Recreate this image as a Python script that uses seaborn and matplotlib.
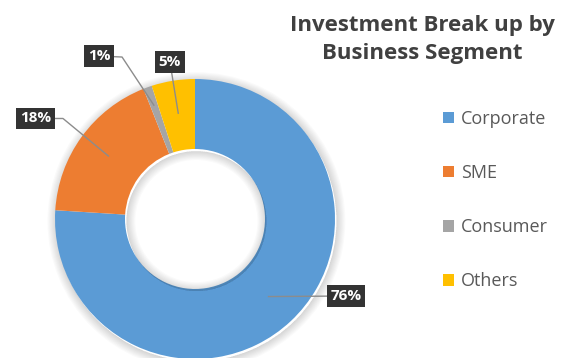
import matplotlib
matplotlib.use("Agg")
import matplotlib.pyplot as plt
import seaborn as sns
import numpy as np
from matplotlib.patches import Patch, Wedge

segments = ["Corporate", "SME", "Consumer", "Others"]
shares = [76, 18, 1, 5]
palette = ["#5B9BD5", "#ED7D31", "#A5A5A5", "#FFC000"]
title_lines = ["Investment Break up by", "Business Segment"]

sns.set_theme(style="white")
plt.rcParams["font.family"] = ["Open Sans", "DejaVu Sans"]

W, H = 562, 358
fig = plt.figure(figsize=(W / 100, H / 100), dpi=100)
fig.patch.set_facecolor("white")

# donut centre and radius in pixels
cx, cy, R = 195, 219, 140
ax = fig.add_axes([(cx - R) / W, (H - cy - R) / H, 2 * R / W, 2 * R / H])

# soft shadow around the ring
for i in range(8):
    d = 0.008 * (i + 1)
    ax.add_patch(Wedge((0.01, -0.015), 1.0 + d, 0, 360, width=d,
                       facecolor="#000000", alpha=0.018, edgecolor="none",
                       clip_on=False, zorder=0))
    ax.add_patch(Wedge((0.01, -0.015), 0.5, 0, 360, width=d,
                       facecolor="#000000", alpha=0.018, edgecolor="none",
                       clip_on=False, zorder=4))

wedges, _ = ax.pie(shares, colors=sns.color_palette(palette), startangle=90,
                   counterclock=False, radius=1.0,
                   wedgeprops=dict(width=0.5, edgecolor="none"))
for w in wedges:
    w.set_clip_on(False)
ax.set_xlim(-1, 1)
ax.set_ylim(-1, 1)
ax.set_aspect("equal")
ax.axis("off")

# label box positions (data units) and leader line elbows
label_pos = {
    "Corporate": (1.079, -0.55),
    "SME": (-1.139, 0.718),
    "Consumer": (-0.686, 1.164),
    "Others": (-0.179, 1.121),
}
elbow = {
    "Corporate": None,
    "SME": (-0.943, 0.718),
    "Consumer": (-0.521, 1.157),
    "Others": None,
}

total = sum(shares)
cum = 0
for seg, val in zip(segments, shares):
    mid = (cum + val / 2) / total * 360.0
    cum += val
    ang = np.deg2rad(90 - mid)
    rr = 0.76 if seg != "Consumer" else 0.86
    px, py = rr * np.cos(ang), rr * np.sin(ang)
    lx, ly = label_pos[seg]
    if elbow[seg] is None:
        xs, ys = [px, lx], [py, ly]
    else:
        ex, ey = elbow[seg]
        xs, ys = [px, ex, lx], [py, ey, ly]
    ax.plot(xs, ys, color="#8c8c8c", lw=1.0, solid_capstyle="butt",
            clip_on=False, zorder=6)
    ax.text(lx, ly, f"{val}%", ha="center", va="center", color="white",
            fontsize=11, fontweight="bold", zorder=8, clip_on=False,
            bbox=dict(boxstyle="square,pad=0.24", facecolor="#333333",
                      edgecolor="none"))

fig.text(422 / W, 1 - 25 / H, title_lines[0], ha="center", va="center",
         fontsize=16, fontweight="bold", color="#404040")
fig.text(422 / W, 1 - 53 / H, title_lines[1], ha="center", va="center",
         fontsize=16, fontweight="bold", color="#404040")

handles = [Patch(facecolor=c, edgecolor="none") for c in palette]
leg = fig.legend(handles, segments, loc="upper left",
                 bbox_to_anchor=(443 / W, 1 - 110 / H), frameon=False,
                 fontsize=13, labelspacing=2.0, handlelength=0.6,
                 handleheight=0.6, handletextpad=0.4, borderpad=0,
                 borderaxespad=0)
for t in leg.get_texts():
    t.set_color("#595959")

fig.savefig("out.png", dpi=100, facecolor="white")
